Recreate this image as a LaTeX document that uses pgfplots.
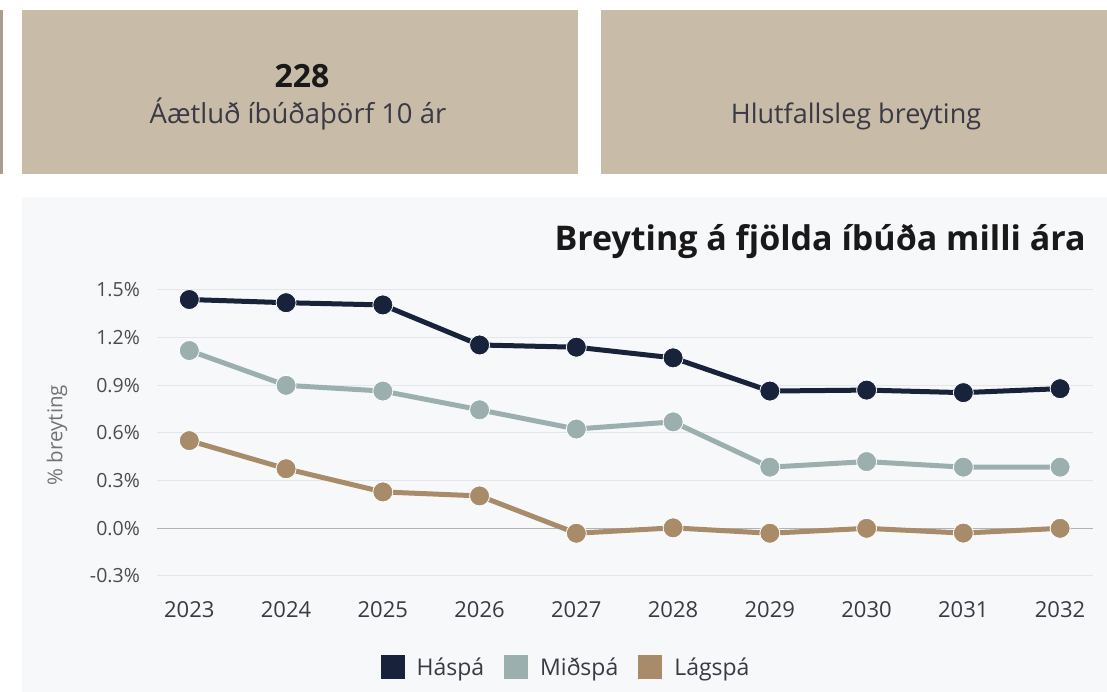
\documentclass[border=0pt]{standalone}
\usepackage{pgfplots}
\pgfplotsset{compat=1.18}
\usepackage{fontspec}
\setmainfont{Open Sans}
\definecolor{navy}{HTML}{18223B}
\definecolor{sage}{HTML}{9BB0AE}
\definecolor{tan}{HTML}{A88C6A}
\definecolor{cardbg}{HTML}{C8BBA8}
\definecolor{panelbg}{HTML}{F7F8FA}
\definecolor{gridc}{HTML}{E4E6EC}
\definecolor{txt}{HTML}{3A3A45}
\begin{document}
\begin{tikzpicture}[x=1pt,y=1pt]
\fill[white] (0,0) rectangle (1107,692);
\fill[cardbg!85!black] (0,518) rectangle (3,682);
\fill[cardbg] (22,518) rectangle (578,682);
\fill[cardbg] (601,518) rectangle (1107,682);
\fill[panelbg] (22,0) rectangle (1107,495);
\node[anchor=base, text=black!90, font=\fontsize{32}{36}\selectfont\bfseries, inner sep=0] at (302,604) {228};
\node[anchor=base, text=txt, font=\fontsize{27.5}{30}\selectfont, inner sep=0] at (298,568) {Áætluð íbúðaþörf 10 ár};
\node[anchor=base, text=txt, font=\fontsize{27}{30}\selectfont, inner sep=0] at (856,568) {Hlutfallsleg breyting};
\node[anchor=base east, text=black!90, font=\fontsize{34}{38}\selectfont\bfseries, inner sep=0] at (1086,441) {Breyting á fjölda íbúða milli ára};
\node[rotate=90, text=black!55, font=\fontsize{20.5}{24}\selectfont, inner sep=0] at (57,257) {\% breyting};
\begin{axis}[
  at={(157pt,116pt)}, anchor=south west,
  scale only axis, width=936pt, height=286pt,
  xmin=2022.666, xmax=2032.34,
  ymin=-0.3, ymax=1.5,
  clip=false,
  axis line style={draw=none},
  major tick length=0pt,
  xtick={2023,...,2032},
  xticklabels={2023,2024,2025,2026,2027,2028,2029,2030,2031,2032},
  ytick={-0.3,0,0.3,0.6,0.9,1.2,1.5},
  yticklabels={-0.3\%,0.0\%,0.3\%,0.6\%,0.9\%,1.2\%,1.5\%},
  ymajorgrids, grid style={gridc, line width=1pt},
  xticklabel style={anchor=north, inner sep=0pt, yshift=-25pt, text=txt, font=\fontsize{22}{24}\selectfont},
  yticklabel style={anchor=east, inner sep=0pt, xshift=-17pt, text=black!70, font=\fontsize{19.5}{22}\selectfont},
  legend style={at={(0.437,-0.318)}, anchor=center, draw=none, fill=none,
    legend columns=-1, font=\fontsize{23}{26}\selectfont, text=txt,
    /tikz/every odd column/.append style={column sep=10pt},
    /tikz/every even column/.append style={column sep=18pt}},
  legend cell align=left,
]
\draw[black!30, line width=1pt] (axis cs:2022.666,0) -- (axis cs:2032.34,0);
\addplot[navy, line width=5pt, mark=*, mark size=10pt, mark options={fill=navy, draw=white, line width=0.8pt},
  legend image code/.code={\fill[navy] (0pt,-9.5pt) rectangle (19pt,9.5pt);}]
  coordinates {(2023,1.44)(2024,1.42)(2025,1.406)(2026,1.154)(2027,1.14)(2028,1.073)(2029,0.864)(2030,0.87)(2031,0.854)(2032,0.879)};
\addlegendentry{Háspá}
\addplot[sage, line width=5pt, mark=*, mark size=10pt, mark options={fill=sage, draw=white, line width=0.8pt},
  legend image code/.code={\fill[sage] (0pt,-9.5pt) rectangle (19pt,9.5pt);}]
  coordinates {(2023,1.119)(2024,0.90)(2025,0.864)(2026,0.746)(2027,0.625)(2028,0.67)(2029,0.385)(2030,0.42)(2031,0.385)(2032,0.385)};
\addlegendentry{Miðspá}
\addplot[tan, line width=5pt, mark=*, mark size=10pt, mark options={fill=tan, draw=white, line width=0.8pt},
  legend image code/.code={\fill[tan] (0pt,-9.5pt) rectangle (19pt,9.5pt);}]
  coordinates {(2023,0.552)(2024,0.375)(2025,0.229)(2026,0.204)(2027,-0.031)(2028,0.003)(2029,-0.031)(2030,0.0)(2031,-0.03)(2032,0.0)};
\addlegendentry{Lágspá}
\end{axis}
\end{tikzpicture}
\end{document}
